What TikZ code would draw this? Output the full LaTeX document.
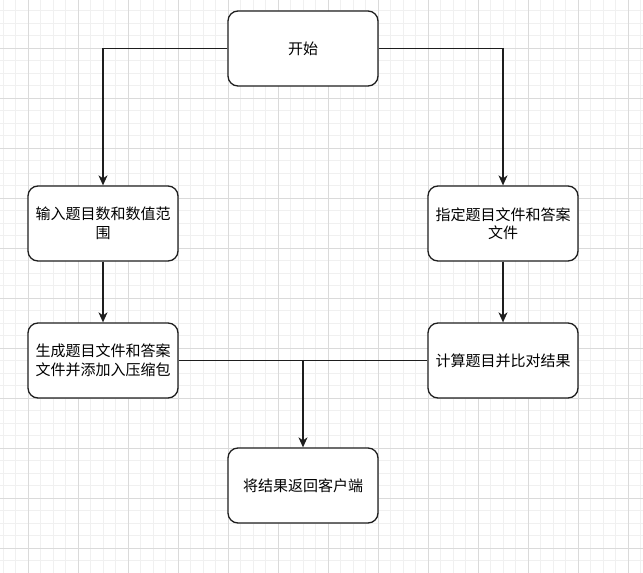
\documentclass[tikz,border=0pt]{standalone}
\usepackage{fontspec}
\newfontfamily\cjk{Noto Sans CJK SC}
\usetikzlibrary{arrows.meta}
\definecolor{minorgrid}{RGB}{240,240,240}
\definecolor{majorgrid}{RGB}{218,218,218}
\definecolor{edgecol}{RGB}{30,30,30}
\begin{document}
\begin{tikzpicture}[x=1pt,y=-1pt,
  stepbox/.style={draw=edgecol, fill=white, line width=1.3pt, rounded corners=10pt,
    minimum width=150pt, minimum height=75pt, inner sep=0pt, align=center,
    font=\cjk\fontsize{15}{18.5}\selectfont, text=black},
  conn/.style={draw=edgecol, line width=1.2pt},
  arr/.style={conn, -{Stealth[length=10pt,width=9pt,inset=3pt]}}]
\useasboundingbox (0,0) rectangle (643,573);
\fill[white] (0,0) rectangle (643,573);
% grid
\foreach \i in {0,...,52} \draw[minorgrid, line width=0.8pt] ({3+12.5*\i},0) -- ({3+12.5*\i},573);
\foreach \i in {0,...,46} \draw[minorgrid, line width=0.8pt] (0,{10.5+12.5*\i}) -- (643,{10.5+12.5*\i});
\foreach \i in {0,...,12} \draw[majorgrid, line width=0.8pt] ({28+50*\i},0) -- ({28+50*\i},573);
\foreach \i in {0,...,11} \draw[majorgrid, line width=0.8pt] (0,{48+50*\i}) -- (643,{48+50*\i});
% nodes
\node[stepbox] (start) at (303,48.5) {开始};
\node[stepbox] (input) at (103,223.5) {输入题目数和数值范\\围};
\node[stepbox] (spec) at (503,223.5) {指定题目文件和答案\\文件};
\node[stepbox] (gen) at (103,360.5) {生成题目文件和答案\\文件并添加入压缩包};
\node[stepbox] (calc) at (503,360.5) {计算题目并比对结果};
\node[stepbox] (ret) at (303,485.5) {将结果返回客户端};
% connectors
\draw[arr] (start.west) -| (input.north);
\draw[arr] (start.east) -| (spec.north);
\draw[arr] (input) -- (gen);
\draw[arr] (spec) -- (calc);
\draw[conn] (gen.east) -- (calc.west);
\coordinate (merge) at (ret.north |- gen.east);
\draw[arr] (merge) -- (ret.north);
\end{tikzpicture}
\end{document}
